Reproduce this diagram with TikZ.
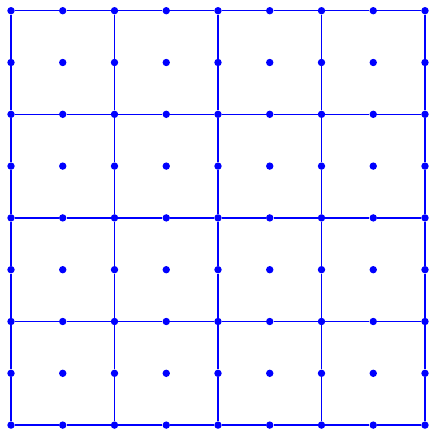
\documentclass[tikz,border=0pt]{standalone}
\begin{document}
\begin{tikzpicture}[x=1pt,y=-1pt,
  dot/.style={circle,fill=blue,inner sep=0pt,minimum size=7.4pt},
  gridline/.style={draw=blue,line width=1.3pt}]
\useasboundingbox (0,0) rectangle (429,431);
\foreach \i in {0,...,8}{
  \foreach \j in {0,...,8}{
    \node[dot] (d-\i-\j) at ({11+51.75*\i},{10.7+51.8*\j}) {};
  }
}
\foreach \k in {0,2,4,6,8}{
  \foreach \m [evaluate=\m as \n using int(\m+1)] in {0,...,7}{
    \draw[gridline] (d-\m-\k) -- (d-\n-\k);
    \draw[gridline] (d-\k-\m) -- (d-\k-\n);
  }
}
\end{tikzpicture}
\end{document}
